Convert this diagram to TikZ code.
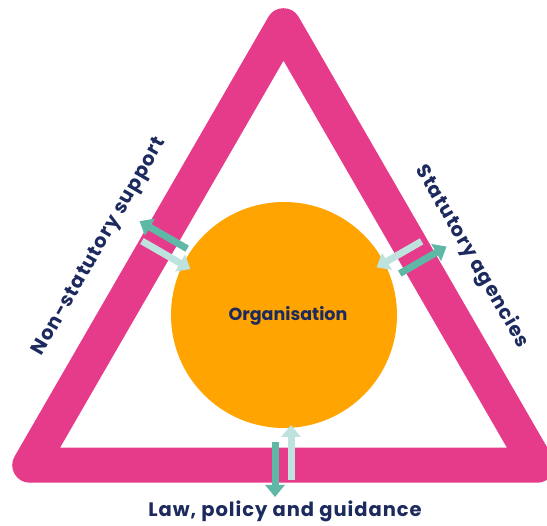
\documentclass[tikz,border=0pt]{standalone}
\usepackage{fontspec}
\setmainfont{Poppins}
\newfontfamily\labelfont{Poppins}[LetterSpace=5]
\usetikzlibrary{arrows.meta}
\usetikzlibrary{calc}

\definecolor{pinkband}{HTML}{E63A8A}
\definecolor{orgorange}{HTML}{FFA400}
\definecolor{navytext}{HTML}{1C2A5E}
\definecolor{tealdark}{HTML}{5EB8A5}
\definecolor{teallight}{HTML}{BEE3DF}

\tikzset{
    outarrow/.style={draw=tealdark, line width=7pt, -{Triangle[width=19pt,length=12pt]}},
    inarrow/.style={draw=teallight, line width=7pt, -{Triangle[width=19pt,length=12pt]}},
    sidelabel/.style={text=navytext, font=\labelfont\fontsize{19.5}{22}\selectfont\bfseries}
}

\begin{document}
\begin{tikzpicture}[x=1pt, y=1pt, line cap=butt]

    \useasboundingbox (0,0) rectangle (547,526);

    \coordinate (G) at (283.5, 207.3);
    \draw [pinkband, line width=35pt, line join=round] ($(G)+(90:293)$) -- ($(G)+(210:293)$) -- ($(G)+(330:293)$) -- cycle;

    \node [circle, fill=orgorange, minimum size=226pt, inner sep=0pt] (O) at (284, 211) {};
    \node [text=navytext, font=\fontsize{17.5}{20}\selectfont\bfseries] (org) at (288, 210) {Organisation};

    % left side
    \coordinate (nsOutA) at ($(O.center)+(150:117)+(60:9)$);
    \coordinate (nsOutB) at ($(O.center)+(150:172)+(60:9)$);
    \coordinate (nsInA) at ($(O.center)+(150:160)+(240:7)$);
    \coordinate (nsInB) at ($(O.center)+(150:104)+(240:7)$);
    \draw [outarrow] (nsOutA) -- (nsOutB);
    \draw [inarrow] (nsInA) -- (nsInB);

    % bottom side
    \coordinate (lawOutA) at ($(O.center)+(270:127)+(180:9)$);
    \coordinate (lawOutB) at ($(O.center)+(270:182)+(180:9)$);
    \coordinate (lawInA) at ($(O.center)+(270:165)+(0:7)$);
    \coordinate (lawInB) at ($(O.center)+(270:110)+(0:7)$);
    \draw [outarrow] (lawOutA) -- (lawOutB);
    \draw [inarrow] (lawInA) -- (lawInB);

    % right side
    \coordinate (stOutA) at ($(O.center)+(30:121)+(300:22)$);
    \coordinate (stOutB) at ($(O.center)+(30:175)+(300:22)$);
    \coordinate (stInA) at ($(O.center)+(30:156)+(300:5)$);
    \coordinate (stInB) at ($(O.center)+(30:104)+(300:5)$);
    \draw [outarrow] (stOutA) -- (stOutB);
    \draw [inarrow] (stInA) -- (stInB);

    \node [sidelabel, rotate=60] (nonstat) at (100, 279) {Non-statutory support};
    \node [sidelabel, rotate=-60] (stat) at (472, 269) {Statutory agencies};
    \node [sidelabel] (law) at (285, 15) {Law, policy and guidance};

\end{tikzpicture}
\end{document}
